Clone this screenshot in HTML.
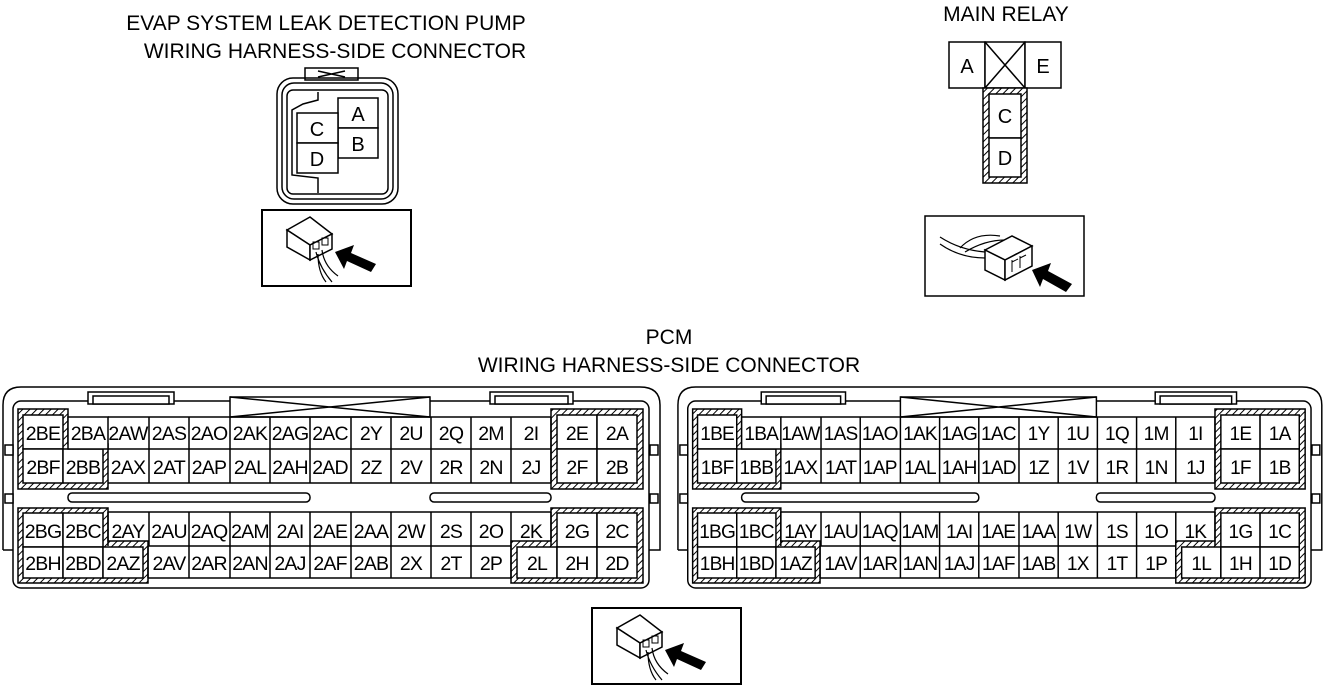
<!DOCTYPE html>
<html><head><meta charset="utf-8"><style>
html,body{margin:0;padding:0;background:#fff;}
svg{display:block;}
text{font-family:"Liberation Sans",Arial,sans-serif;fill:#000;}
</style></head><body>
<svg width="1327" height="685" viewBox="0 0 1327 685" xmlns="http://www.w3.org/2000/svg">
<defs>
<pattern id="h" patternUnits="userSpaceOnUse" width="5" height="5" patternTransform="rotate(45)">
<rect width="5" height="5" fill="#fff"/><line x1="0" y1="0" x2="0" y2="5" stroke="#000" stroke-width="2"/>
</pattern>
<g id="icon">
<rect x="2" y="8" width="149" height="76" fill="#fff" stroke="#000" stroke-width="2"/>
<polygon points="27,28 50,15 72,32 50,43" fill="#fff" stroke="#000" stroke-width="1.5"/>
<polygon points="27,28 50,43 50,58 27,45" fill="#fff" stroke="#000" stroke-width="1.5"/>
<polygon points="50,43 72,32 72,47 50,58" fill="#fff" stroke="#000" stroke-width="1.5"/>
<rect x="53" y="40" width="6" height="7" fill="none" stroke="#000" stroke-width="1"/>
<rect x="62" y="36" width="6" height="7" fill="none" stroke="#000" stroke-width="1"/>
<path d="M56,50 Q60,66 72,80 M62,48 Q64,64 78,74 M58,52 Q58,70 66,80" fill="none" stroke="#000" stroke-width="1.2"/>
<polygon points="75,50 94,43 91,51 116,62 111,70 87,59 84,67" fill="#000"/>
</g>
</defs>

<!-- Titles -->
<text x="326" y="30" font-size="21" text-anchor="middle">EVAP SYSTEM LEAK DETECTION PUMP</text>
<text x="335" y="58" font-size="21" text-anchor="middle">WIRING HARNESS-SIDE CONNECTOR</text>
<text x="1006" y="21" font-size="21" text-anchor="middle">MAIN RELAY</text>
<text x="669" y="344" font-size="21" text-anchor="middle">PCM</text>
<text x="669" y="372" font-size="21" text-anchor="middle">WIRING HARNESS-SIDE CONNECTOR</text>

<!-- EVAP connector -->
<g fill="none" stroke="#000" stroke-width="1.5">
<rect x="305" y="68" width="53" height="12" fill="#fff"/>
<path d="M318,71 L345,77 M318,77 L345,71"/>
<rect x="277" y="78" width="121" height="126" rx="16"/>
<rect x="282" y="83" width="111" height="116" rx="12"/>
<rect x="287" y="90" width="101" height="104" rx="6"/>
<path d="M318,92 L318,100 L303,104 L292,110 L292,175 L318,178 L318,193"/>
<rect x="338" y="98" width="40" height="30" fill="#fff"/>
<rect x="338" y="128" width="40" height="30" fill="#fff"/>
<rect x="297" y="113" width="41" height="30" fill="#fff"/>
<rect x="297" y="143" width="41" height="30" fill="#fff"/>
</g>
<text x="358" y="121" font-size="20" text-anchor="middle">A</text>
<text x="358" y="151" font-size="20" text-anchor="middle">B</text>
<text x="317" y="136" font-size="20" text-anchor="middle">C</text>
<text x="317" y="166" font-size="20" text-anchor="middle">D</text>
<use href="#icon" transform="translate(260,202)"/>

<!-- Main relay -->
<g fill="#fff" stroke="#000" stroke-width="1.5">
<rect x="949" y="42" width="36" height="46"/>
<rect x="985" y="42" width="40" height="46"/>
<path d="M985,42 L1025,88 M1025,42 L985,88"/>
<rect x="1025" y="42" width="36" height="46"/>
<rect x="983" y="88" width="44" height="95" fill="url(#h)"/>
<rect x="989" y="94" width="32" height="44"/>
<rect x="989" y="138" width="32" height="39"/>
</g>
<text x="967" y="73" font-size="20" text-anchor="middle">A</text>
<text x="1043" y="73" font-size="20" text-anchor="middle">E</text>
<text x="1005" y="123" font-size="20" text-anchor="middle">C</text>
<text x="1005" y="165" font-size="20" text-anchor="middle">D</text>
<g>
<rect x="925" y="216" width="159" height="80" fill="#fff" stroke="#000" stroke-width="1.5"/>
<path d="M940,237 Q960,250 985,252 M940,244 Q960,258 985,258" fill="none" stroke="#000" stroke-width="1.2"/>
<path d="M960,248 Q975,232 1000,236 M965,252 Q985,240 1005,240" fill="none" stroke="#000" stroke-width="1.2"/>
<polygon points="985,250 1012,236 1032,246 1005,260" fill="#fff" stroke="#000" stroke-width="1.5"/>
<polygon points="985,250 1005,260 1005,280 985,270" fill="#fff" stroke="#000" stroke-width="1.5"/>
<polygon points="1005,260 1032,246 1032,266 1005,280" fill="#fff" stroke="#000" stroke-width="1.5"/>
<path d="M1012,260 L1012,272 M1012,262 L1018,259 M1020,256 L1020,268 M1020,258 L1026,255" stroke="#000" stroke-width="1" fill="none"/>
<polygon points="1032,270 1051,263 1048,271 1072,284 1066,292 1043,279 1040,287" fill="#000"/>
</g>

<!-- PCM connector template -->
<g id="pcm" fill="none" stroke="#000" stroke-width="1.5">
<path d="M3,550 L3,405 Q3,387 21,387 L640,387 Q660,387 660,405 L660,550 L649,550"/>
<path d="M3,550 L13,550"/>
<rect x="13" y="401" width="636" height="187" rx="8"/>
<rect x="88" y="392" width="86" height="12" fill="#fff"/>
<rect x="93" y="396" width="76" height="8" fill="#fff"/>
<rect x="490" y="392" width="83" height="12" fill="#fff"/>
<rect x="495" y="396" width="73" height="8" fill="#fff"/>
<rect x="5" y="445" width="8" height="10" fill="#fff"/>
<rect x="5" y="494" width="8" height="9" fill="#fff"/>
<rect x="650" y="445" width="8" height="10" fill="#fff"/>
<rect x="650" y="494" width="8" height="9" fill="#fff"/>
<rect x="230" y="397" width="200" height="20" fill="#fff"/>
<path d="M230,397 L430,417 M430,397 L230,417"/>
<rect x="68" y="493" width="242" height="9" rx="4" fill="#fff"/>
<rect x="430" y="493" width="121" height="9" rx="4" fill="#fff"/>
<polygon points="18,409 68,409 68,444 108,444 108,489 18,489" fill="url(#h)"/>
<polygon points="18,508 108,508 108,541 148,541 148,583 18,583" fill="url(#h)"/>
<polygon points="551,409 643,409 643,489 551,489" fill="url(#h)"/>
<polygon points="551,508 643,508 643,583 511,583 511,541 551,541" fill="url(#h)"/>
<g fill="#fff">
<rect x="23" y="415" width="40" height="34"/><rect x="23" y="449" width="40" height="34"/><rect x="63" y="449" width="40" height="34"/>
<rect x="68" y="417" width="40" height="32"/>
<rect x="23" y="513" width="40" height="34"/><rect x="63" y="513" width="40" height="34"/>
<rect x="23" y="547" width="40" height="31"/><rect x="63" y="547" width="40" height="31"/><rect x="103" y="547" width="40" height="31"/>
<rect x="557" y="415" width="40" height="34"/><rect x="597" y="415" width="40" height="34"/>
<rect x="557" y="449" width="40" height="34"/><rect x="597" y="449" width="40" height="34"/>
<rect x="557" y="513" width="40" height="34"/><rect x="597" y="513" width="40" height="34"/>
<rect x="517" y="547" width="40" height="31"/><rect x="557" y="547" width="40" height="31"/><rect x="597" y="547" width="40" height="31"/>
<path d="M108,417 H551 M108,449 H551 M108,483 H551 M108,512 H551 M148,546 H511 M148,578 H511 M108,512 V546 M148,546 V578"/>
<path d="M149,417V483 M189,417V483 M230,417V483 M270,417V483 M310,417V483 M351,417V483 M391,417V483 M431,417V483 M471,417V483 M511,417V483 M551,417V483"/>
<path d="M149,512V546 M189,512V578 M230,512V578 M270,512V578 M310,512V578 M351,512V578 M391,512V578 M431,512V578 M471,512V578 M511,512V578 M551,512V546"/>
</g>
</g>
<use href="#pcm" transform="translate(675,0) scale(0.98,1)"/>

<g font-size="19.5" text-anchor="middle" letter-spacing="-0.8">
<text x="43" y="440">2BE</text><text x="88" y="440">2BA</text><text x="128" y="440">2AW</text><text x="169" y="440">2AS</text><text x="209" y="440">2AO</text><text x="250" y="440">2AK</text><text x="290" y="440">2AG</text><text x="330" y="440">2AC</text><text x="371" y="440">2Y</text><text x="411" y="440">2U</text><text x="451" y="440">2Q</text><text x="491" y="440">2M</text><text x="531" y="440">2I</text><text x="577" y="440">2E</text><text x="617" y="440">2A</text>
<text x="43" y="474">2BF</text><text x="83" y="474">2BB</text><text x="128" y="474">2AX</text><text x="169" y="474">2AT</text><text x="209" y="474">2AP</text><text x="250" y="474">2AL</text><text x="290" y="474">2AH</text><text x="330" y="474">2AD</text><text x="371" y="474">2Z</text><text x="411" y="474">2V</text><text x="451" y="474">2R</text><text x="491" y="474">2N</text><text x="531" y="474">2J</text><text x="577" y="474">2F</text><text x="617" y="474">2B</text>
<text x="43" y="538">2BG</text><text x="83" y="538">2BC</text><text x="128" y="538">2AY</text><text x="169" y="538">2AU</text><text x="209" y="538">2AQ</text><text x="250" y="538">2AM</text><text x="290" y="538">2AI</text><text x="330" y="538">2AE</text><text x="371" y="538">2AA</text><text x="411" y="538">2W</text><text x="451" y="538">2S</text><text x="491" y="538">2O</text><text x="531" y="538">2K</text><text x="577" y="538">2G</text><text x="617" y="538">2C</text>
<text x="43" y="570">2BH</text><text x="83" y="570">2BD</text><text x="123" y="570">2AZ</text><text x="169" y="570">2AV</text><text x="209" y="570">2AR</text><text x="250" y="570">2AN</text><text x="290" y="570">2AJ</text><text x="330" y="570">2AF</text><text x="371" y="570">2AB</text><text x="411" y="570">2X</text><text x="451" y="570">2T</text><text x="491" y="570">2P</text><text x="537" y="570">2L</text><text x="577" y="570">2H</text><text x="617" y="570">2D</text>
</g>
<g font-size="19.5" text-anchor="middle" letter-spacing="-0.8" transform="translate(675,0) scale(0.98,1)">
<text x="43" y="440">1BE</text><text x="88" y="440">1BA</text><text x="128" y="440">1AW</text><text x="169" y="440">1AS</text><text x="209" y="440">1AO</text><text x="250" y="440">1AK</text><text x="290" y="440">1AG</text><text x="330" y="440">1AC</text><text x="371" y="440">1Y</text><text x="411" y="440">1U</text><text x="451" y="440">1Q</text><text x="491" y="440">1M</text><text x="531" y="440">1I</text><text x="577" y="440">1E</text><text x="617" y="440">1A</text>
<text x="43" y="474">1BF</text><text x="83" y="474">1BB</text><text x="128" y="474">1AX</text><text x="169" y="474">1AT</text><text x="209" y="474">1AP</text><text x="250" y="474">1AL</text><text x="290" y="474">1AH</text><text x="330" y="474">1AD</text><text x="371" y="474">1Z</text><text x="411" y="474">1V</text><text x="451" y="474">1R</text><text x="491" y="474">1N</text><text x="531" y="474">1J</text><text x="577" y="474">1F</text><text x="617" y="474">1B</text>
<text x="43" y="538">1BG</text><text x="83" y="538">1BC</text><text x="128" y="538">1AY</text><text x="169" y="538">1AU</text><text x="209" y="538">1AQ</text><text x="250" y="538">1AM</text><text x="290" y="538">1AI</text><text x="330" y="538">1AE</text><text x="371" y="538">1AA</text><text x="411" y="538">1W</text><text x="451" y="538">1S</text><text x="491" y="538">1O</text><text x="531" y="538">1K</text><text x="577" y="538">1G</text><text x="617" y="538">1C</text>
<text x="43" y="570">1BH</text><text x="83" y="570">1BD</text><text x="123" y="570">1AZ</text><text x="169" y="570">1AV</text><text x="209" y="570">1AR</text><text x="250" y="570">1AN</text><text x="290" y="570">1AJ</text><text x="330" y="570">1AF</text><text x="371" y="570">1AB</text><text x="411" y="570">1X</text><text x="451" y="570">1T</text><text x="491" y="570">1P</text><text x="537" y="570">1L</text><text x="577" y="570">1H</text><text x="617" y="570">1D</text>
</g>

<use href="#icon" transform="translate(590,600)"/>
</svg>
</body></html>
